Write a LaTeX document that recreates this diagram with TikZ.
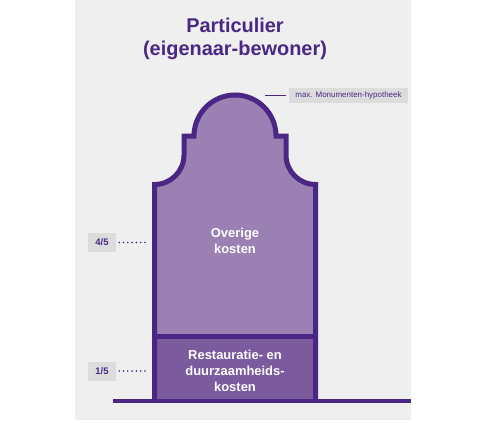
\documentclass[tikz,border=0pt]{standalone}
\usepackage{fontspec}
\setmainfont{Liberation Sans}
\definecolor{bgGray}{HTML}{EFEFEF}
\definecolor{edgePurple}{HTML}{4A2784}
\definecolor{upperFill}{HTML}{9B80B4}
\definecolor{lowerFill}{HTML}{7B5A9E}
\definecolor{tagGray}{HTML}{DCDCDC}
\tikzset{
  wall/.style={draw=edgePurple, line width=5bp},
  tagbox/.style={fill=tagGray, text=edgePurple, font=\bfseries\fontsize{9.5}{10}\selectfont, inner sep=0pt, minimum height=19bp},
  dotline/.style={edgePurple, line width=1.8bp, line cap=round, dash pattern=on 0bp off 4.3bp},
  housetext/.style={text=white, font=\bfseries\fontsize{13}{16}\selectfont, align=center},
}
\begin{document}
\begin{tikzpicture}[x=1bp,y=1bp]
\useasboundingbox (0,0) rectangle (480,422);
\fill[white] (0,0) rectangle (480,422);
\fill[bgGray] (75,2) rectangle (411,422);
% fills
\fill[upperFill] (154.5,85.5) -- (154.5,237.5) arc[start angle=-90,end angle=0,radius=29.5bp]
  -- (184,286) -- (194,286) arc[start angle=180,end angle=0,radius=41bp]
  -- (286,286) -- (286,267) arc[start angle=180,end angle=270,radius=29.5bp]
  -- (315.5,85.5) -- cycle;
\fill[lowerFill] (154.5,21) rectangle (315.5,85.5);
% outline
\draw[wall] (154.5,21) -- (154.5,237.5) arc[start angle=-90,end angle=0,radius=29.5bp]
  -- (184,286) -- (194,286) arc[start angle=180,end angle=0,radius=41bp]
  -- (286,286) -- (286,267) arc[start angle=180,end angle=270,radius=29.5bp]
  -- (315.5,21);
\draw[wall] (154.5,85.5) -- (315.5,85.5);
\draw[edgePurple, line width=4bp] (113,21) -- (411,21);
% title
\node[text=edgePurple, font=\bfseries\fontsize{20}{23}\selectfont, align=center] (title) at (235,383) {Particulier\\(eigenaar-bewoner)};
% house texts
\node[housetext] (upper) at (235,181) {Overige\\kosten};
\node[housetext] (lower) at (235,51) {Restauratie- en\\duurzaamheids-\\kosten};
% labels
\node[tagbox, minimum width=28bp] (t45) at (102,179.5) {4/5};
\coordinate (e45) at (148,179.5);
\draw[dotline] (t45.east) ++(3,0) -- (e45);
\node[tagbox, minimum width=28bp] (t15) at (102,51) {1/5};
\coordinate (e15) at (148,51);
\draw[dotline] (t15.east) ++(3,0) -- (e15);
\node[fill=tagGray, text=edgePurple, font=\fontsize{8}{9}\selectfont, inner sep=0pt, minimum width=119bp, minimum height=15bp] (tmax) at (348.5,326.5) {max. Monumenten-hypotheek};
\coordinate (emax) at (265,326.5);
\draw[edgePurple, line width=1.8bp] (tmax.west) ++(-3,0) -- (emax);
\end{tikzpicture}
\end{document}
